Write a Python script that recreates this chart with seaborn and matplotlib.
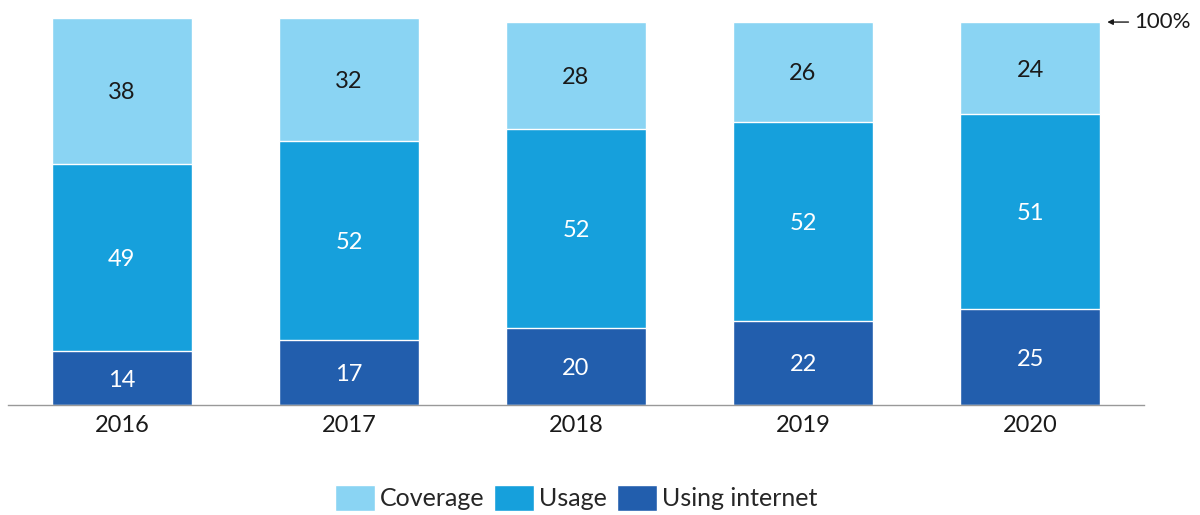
import numpy as np
import pandas as pd
import seaborn as sns
import matplotlib.pyplot as plt
from matplotlib.patches import Patch

# data
years = ["2016", "2017", "2018", "2019", "2020"]
using_internet = [14, 17, 20, 22, 25]
usage = [49, 52, 52, 52, 51]
coverage = [38, 32, 28, 26, 24]

colors = {"Coverage": "#8AD4F3", "Usage": "#16A0DC", "Using internet": "#225EAD"}

df = pd.DataFrame({"year": years, "internet": using_internet,
                   "usage": usage, "coverage": coverage})
df["mid"] = df["internet"] + df["usage"]
df["top"] = df["mid"] + df["coverage"]

sns.set_style("white")
plt.rcParams["font.family"] = ["Lato", "DejaVu Sans"]

fig = plt.figure(figsize=(12, 5.15), dpi=100)
ax = fig.add_axes([0.007, 0.2136, 0.946, 0.751])

# stacked bars: draw the cumulative totals from the top layer down
sns.barplot(data=df, x="year", y="top", color=colors["Coverage"], width=0.62,
            saturation=1, ax=ax)
sns.barplot(data=df, x="year", y="mid", color=colors["Usage"], width=0.62,
            saturation=1, ax=ax)
sns.barplot(data=df, x="year", y="internet", color=colors["Using internet"], width=0.62,
            saturation=1, ax=ax)

# segment labels
for i, row in df.iterrows():
    ax.text(i, row["internet"] / 2, str(row["internet"]), ha="center",
            va="center_baseline", color="white", fontsize=17)
    ax.text(i, row["internet"] + row["usage"] / 2, str(row["usage"]), ha="center",
            va="center_baseline", color="white", fontsize=17)
    ax.text(i, row["mid"] + row["coverage"] / 2, str(row["coverage"]), ha="center",
            va="center_baseline", color="#1a1a1a", fontsize=17)

ax.set_xlim(-0.5, 4.5)
ax.set_ylim(0, 101)
ax.set_xlabel("")
ax.set_ylabel("")
ax.set_yticks([])
ax.tick_params(axis="x", length=0, labelsize=17, pad=7, colors="#1a1a1a")
for s in ["top", "right", "left"]:
    ax.spines[s].set_visible(False)
ax.spines["bottom"].set_color("#999999")
ax.spines["bottom"].set_linewidth(1)

# 100% marker
ax.annotate("100%", xy=(4.34, 100), xytext=(4.46, 100), va="center", ha="left",
            fontsize=16, color="#1a1a1a", annotation_clip=False,
            arrowprops=dict(arrowstyle="-|>", color="#1a1a1a", lw=1,
                            mutation_scale=8, shrinkA=2, shrinkB=0))

handles = [Patch(facecolor=colors[k], label=k) for k in colors]
fig.legend(handles=handles, loc="center", bbox_to_anchor=(0.48, 0.033), ncol=3,
           frameon=False, fontsize=18, handlelength=1.6, handleheight=1.2,
           handletextpad=0.2, columnspacing=0.4)

fig.savefig("out.png", dpi=100)
